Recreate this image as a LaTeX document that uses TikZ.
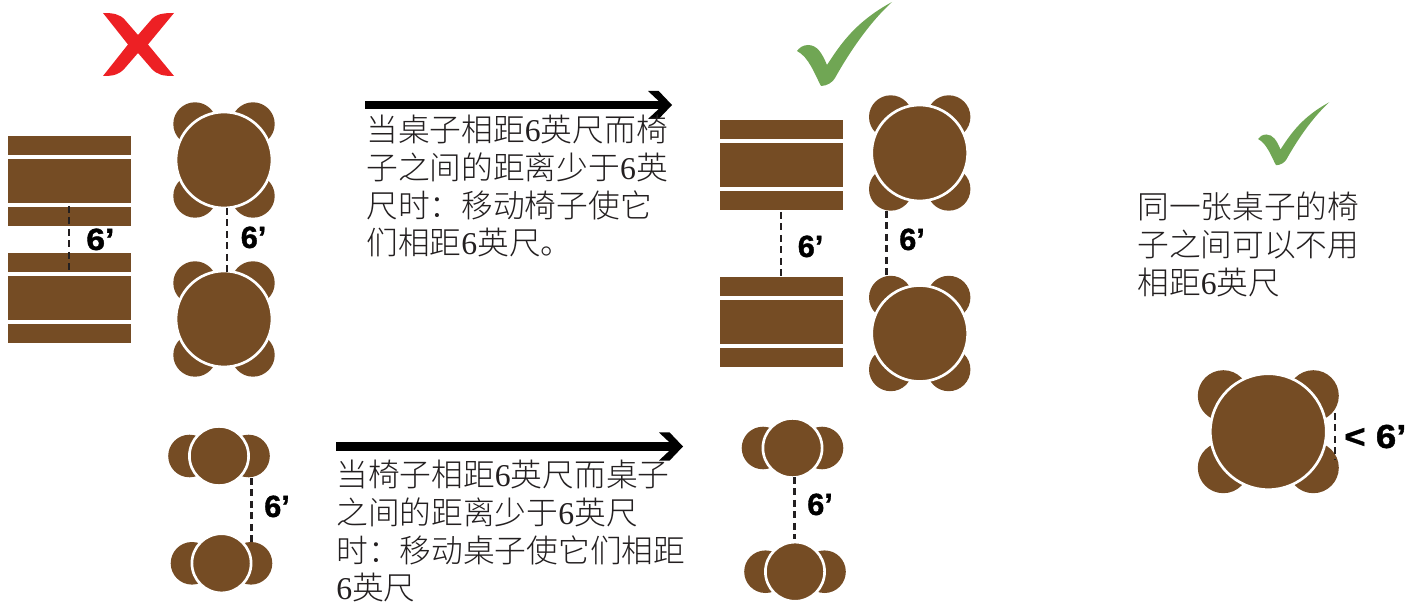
\documentclass[tikz,border=0pt]{standalone}
\usepackage{fontspec}
\usetikzlibrary{arrows.meta}
\setmainfont{Liberation Serif}
\newfontfamily\cjk{Noto Sans CJK SC Light}
\newfontfamily\lab{Liberation Sans}[BoldFont=* Bold,BoldFeatures={FakeBold=1.2}]
\definecolor{wood}{HTML}{754C24}
\definecolor{okgreen}{HTML}{70A654}
\definecolor{badred}{HTML}{ED2024}
\definecolor{ink}{HTML}{231F20}
\pgfdeclarearrow{
  name=Chevron,
  setup code={\pgfarrowssettipend{0pt}\pgfarrowssetlineend{-9pt}\pgfarrowssetbackend{-18pt}\pgfarrowssetvisualbackend{-18pt}},
  drawing code={%
    \pgfpathmoveto{\pgfqpoint{0pt}{0pt}}%
    \pgfpathlineto{\pgfqpoint{-10pt}{10.5pt}}%
    \pgfpathlineto{\pgfqpoint{-18pt}{10.5pt}}%
    \pgfpathlineto{\pgfqpoint{-10pt}{3pt}}%
    \pgfpathlineto{\pgfqpoint{-10pt}{-3pt}}%
    \pgfpathlineto{\pgfqpoint{-18pt}{-10.5pt}}%
    \pgfpathlineto{\pgfqpoint{-10pt}{-10.5pt}}%
    \pgfpathclose
    \pgfusepathqfill},
}
\tikzset{
  plank/.style={rectangle,fill=wood,draw=none,inner sep=0pt,outer sep=0pt,minimum width=92.25pt,anchor=north west},
  chair/.style={circle,fill=wood,draw=none,inner sep=0pt,outer sep=0pt,minimum size=#1*1.5pt},
  tabletop/.style={circle,fill=wood,draw=white,line width=2pt,inner sep=0pt,outer sep=0pt,minimum size=#1*1.5pt},
  gapline/.style={draw=ink,line width=2.15pt,dash pattern=on 5pt off 3.6pt},
  sizelabel/.style={font=\lab\bfseries\fontsize{23}{26}\selectfont,inner sep=0pt,anchor=base west,text=black},
  note/.style={font=\cjk\fontsize{23.8}{28.3}\selectfont,align=left,anchor=north west,inner sep=0pt,text=ink},
  bigarrow/.style={line width=6pt,black,-{Chevron}},
}
\newcommand\six{{\rmfamily 6}}
\newcommand\rectTable[3]{%
  \node[plank,minimum height=14.25pt] (#1a) at (#2,#3) {};
  \node[plank,minimum height=33pt] (#1b) at (#2,#3+23) {};
  \node[plank,minimum height=14.25pt] (#1c) at (#2,#3+71) {};
}
\newcommand\fourTable[7]{%
  \node[chair=#6] (#1c1) at (#2-#4,#3-#5) {};
  \node[chair=#6] (#1c2) at (#2+#4,#3-#5) {};
  \node[chair=#6] (#1c3) at (#2-#4,#3+#5) {};
  \node[chair=#6] (#1c4) at (#2+#4,#3+#5) {};
  \node[tabletop=#7] (#1t) at (#2,#3) {};
}
\newcommand\twoTable[3]{%
  \node[chair=21.3] (#1c1) at (#2-29.5,#3) {};
  \node[chair=21.3] (#1c2) at (#2+29.5,#3) {};
  \node[tabletop=29.6] (#1t) at (#2,#3) {};
}
\newcommand\tick[3]{%
  \begin{scope}[shift={(#1,#2)},scale=#3]
    \fill[okgreen] (95,-49) .. controls (58,-29) and (43,-6) .. (30,14)
      .. controls (25,2) and (20,-6) .. (11,-6)
      .. controls (6,-6) and (2,-3) .. (0,0)
      .. controls (12,6) and (18,24) .. (24,35)
      .. controls (30,35) and (36,31) .. (38,27)
      .. controls (52,2) and (72,-28) .. (95,-49) -- cycle;
  \end{scope}}
\begin{document}
\begin{tikzpicture}[x=0.75pt,y=-0.75pt]
\useasboundingbox (0,0) rectangle (1416,605);
% red cross
\fill[badred] (103,13) .. controls (113,13) and (120,14) .. (125,20) -- (138,35) -- (151,20)
  .. controls (156,14) and (163,13) .. (174,13) -- (148,44.5) -- (174,76)
  .. controls (163,76) and (157,75) .. (151,68) -- (138,53) -- (125,68)
  .. controls (119,75) and (113,76) .. (103,76) -- (128,44.5) -- cycle;
\tick{797}{51}{1}
\tick{1258}{139}{0.75}
% left group
\rectTable{ra}{8}{136}
\rectTable{rb}{8}{253}
\fourTable{ta}{224}{160}{29}{36}{21.7}{48}
\fourTable{tb}{224}{319}{29}{36}{21.7}{48}
\coordinate (d1a) at (69,206); \coordinate (d1b) at (69,270);
\coordinate (d2a) at (227,208); \coordinate (d2b) at (227,272);
\draw[gapline] (d1a) -- (d1b);
\draw[gapline] (d2a) -- (d2b);
\node[sizelabel,xscale=1.1,anchor=base west] (l1) at (86,250) {6’};
\node[sizelabel] (l2) at (240.5,248) {6’};
% middle group
\rectTable{rc}{720}{120}
\rectTable{rd}{720}{277}
\fourTable{tc}{919.7}{153}{29}{36}{21.7}{48}
\fourTable{td}{919.7}{333.5}{29}{36}{21.7}{48}
\coordinate (d3a) at (781,212); \coordinate (d3b) at (781,276);
\coordinate (d4a) at (886.7,211); \coordinate (d4b) at (886.7,275);
\draw[gapline] (d3a) -- (d3b);
\draw[gapline] (d4a) -- (d4b);
\node[sizelabel] (l3) at (797.5,257) {6’};
\node[sizelabel] (l4) at (899,250) {6’};
% lower group
\twoTable{pa}{219}{456}
\twoTable{pb}{221.5}{563.3}
\twoTable{pc}{792.5}{448}
\twoTable{pd}{795}{571.7}
\coordinate (d5a) at (251.3,478); \coordinate (d5b) at (251.3,542);
\coordinate (d6a) at (794.7,477); \coordinate (d6b) at (794.7,539);
\draw[gapline] (d5a) -- (d5b);
\draw[gapline] (d6a) -- (d6b);
\node[sizelabel] (l5) at (264,517) {6’};
\node[sizelabel] (l6) at (807,515) {6’};
% single table
\fourTable{te}{1268.3}{431.7}{45}{36}{25.5}{58}
\coordinate (d7a) at (1335,413); \coordinate (d7b) at (1335,460);
\draw[gapline] (d7a) -- (d7b);
\node[sizelabel,font=\lab\bfseries\fontsize{25}{28}\selectfont,xscale=1.1] (l7) at (1344,448) {< 6’};
% arrows
\coordinate (a1s) at (365,105); \coordinate (a1e) at (672,105);
\coordinate (a2s) at (336,446.5); \coordinate (a2e) at (683,446.5);
\draw[bigarrow] (a1s) -- (a1e);
\draw[bigarrow] (a2s) -- (a2e);
% texts
\node[note] (n1) at (366,115) {当桌子相距\six 英尺而椅\\子之间的距离少于\six 英\\尺时：移动椅子使它\\们相距\six 英尺。};
\node[note] (n2) at (336,460) {当椅子相距\six 英尺而桌子\\之间的距离少于\six 英尺\\时：移动桌子使它们相距\\\six 英尺};
\node[note] (n3) at (1137,192) {同一张桌子的椅\\子之间可以不用\\相距\six 英尺};
\end{tikzpicture}
\end{document}
